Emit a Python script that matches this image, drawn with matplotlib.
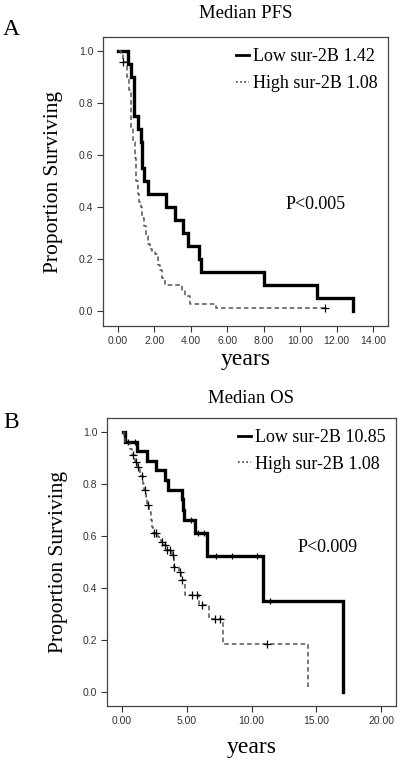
import numpy as np
import matplotlib.pyplot as plt
from matplotlib.lines import Line2D

serif = ['Liberation Serif', 'DejaVu Serif']
sans = ['Liberation Sans', 'DejaVu Sans']

# Panel A: progression-free survival
pfs_low_t = [0.0, 0.57, 0.75, 0.90, 1.08, 1.25, 1.35, 1.42, 1.66, 2.64, 3.13, 3.59, 3.87, 4.45, 4.56, 7.99, 10.9, 12.9]
pfs_low_s = [1.0, 0.95, 0.90, 0.75, 0.70, 0.65, 0.55, 0.50, 0.45, 0.40, 0.35, 0.30, 0.25, 0.20, 0.15, 0.10, 0.05, 0.0]
pfs_high_t = [0.05, 0.15, 0.27, 0.48, 0.60, 0.75, 0.85, 0.93, 1.02, 1.08, 1.15, 1.25, 1.35, 1.45, 1.57, 1.68, 1.76,
              1.90, 2.03, 2.20, 2.30, 2.40, 2.58, 3.50, 3.68, 3.96, 5.38, 11.37]
pfs_high_s = [1.0, 0.99, 0.96, 0.90, 0.85, 0.71, 0.65, 0.59, 0.50, 0.45, 0.42, 0.40, 0.36, 0.33, 0.29, 0.26, 0.24,
              0.23, 0.22, 0.18, 0.16, 0.13, 0.10, 0.08, 0.06, 0.027, 0.013, 0.013]
pfs_high_cens = [0.27, 11.37]

# Panel B: overall survival
os_low_t = [0.05, 0.22, 1.18, 1.90, 2.60, 3.32, 3.58, 4.61, 4.70, 4.81, 5.64, 6.54, 10.9, 17.1]
os_low_s = [1.0, 0.963, 0.926, 0.889, 0.852, 0.815, 0.778, 0.74, 0.70, 0.66, 0.61, 0.524, 0.35, 0.0]
os_low_cens = [0.5, 1.0, 5.3, 5.9, 6.3, 7.26, 8.47, 10.4, 11.45]
os_high_t = [0.05, 0.15, 0.25, 0.60, 0.80, 1.00, 1.20, 1.40, 1.65, 1.72, 1.85, 1.92, 2.05, 2.20, 2.32, 2.42,
             2.75, 3.00, 3.25, 3.40, 3.85, 3.98, 4.40, 4.55, 4.86, 5.97, 6.74, 7.82, 14.4]
os_high_s = [1.0, 0.98, 0.96, 0.935, 0.91, 0.886, 0.867, 0.83, 0.80, 0.775, 0.75, 0.72, 0.69, 0.66, 0.635, 0.61,
             0.595, 0.578, 0.563, 0.546, 0.527, 0.48, 0.46, 0.43, 0.373, 0.335, 0.28, 0.185, 0.01]
os_high_cens = [0.87, 1.06, 1.26, 1.52, 1.78, 1.97, 2.47, 2.62, 3.06, 3.32, 3.45, 3.7, 3.92, 4.02, 4.48, 4.61,
                5.38, 5.77, 6.15, 7.18, 7.57, 11.17]


def surv_at(times, surv, t):
    i = np.searchsorted(times, t, side='right') - 1
    return np.asarray(surv)[i]


def km_panel(ax, low_t, low_s, high_t, high_s, low_c, high_c, xmax, xstep,
             title, title_pad, xlabel_pad, labels, pval, pval_xy, letter, letter_xy):
    ax.step(low_t, low_s, where='post', color='black', lw=2.4, solid_joinstyle='miter')
    ax.step(high_t, high_s, where='post', color='#555555', lw=1.1, linestyle=(0, (3, 2)))
    if low_c:
        ax.plot(low_c, surv_at(low_t, low_s, low_c), '+', color='black', ms=5, mew=0.9)
    if high_c:
        ax.plot(high_c, surv_at(high_t, high_s, high_c), '+', color='black', ms=6, mew=0.9)

    ax.set_xlim(-xmax * 0.058, xmax * 1.058)
    ax.set_ylim(-0.056, 1.054)
    ticks = np.arange(0, xmax + 0.01, xstep)
    ax.set_xticks(ticks)
    ax.set_xticklabels([f'{v:.2f}' for v in ticks])
    ax.set_yticks([0, 0.2, 0.4, 0.6, 0.8, 1.0])
    ax.set_yticklabels(['0.0', '0.2', '0.4', '0.6', '0.8', '1.0'])
    ax.tick_params(direction='out', length=4, width=0.8, colors='#333333', labelsize=7.5, pad=3)
    for lab in ax.get_xticklabels() + ax.get_yticklabels():
        lab.set_family(sans)
    for sp in ax.spines.values():
        sp.set_color('#444444')
        sp.set_linewidth(0.9)

    ax.set_title(title, family=serif, fontsize=13.5, pad=title_pad)
    ax.set_ylabel('Proportion Surviving', family=serif, fontsize=15.5, labelpad=11)
    ax.set_xlabel('years', family=serif, fontsize=17, labelpad=xlabel_pad)

    handles = [Line2D([], [], color='black', lw=2),
               Line2D([], [], color='#444444', lw=1.2, linestyle=(0, (1, 1.5)))]
    ax.legend(handles, labels, loc='upper right', frameon=False,
              prop={'family': serif, 'size': 13}, handlelength=0.7,
              handletextpad=0.2, labelspacing=0.55, borderaxespad=0.3,
              borderpad=0.3)
    ax.text(pval_xy[0], pval_xy[1], pval, transform=ax.transAxes, family=serif, fontsize=13,
            ha='center', va='center')
    ax.text(letter_xy[0], letter_xy[1], letter, transform=ax.transAxes, family=serif, fontsize=17,
            ha='center', va='center')


fig = plt.figure(figsize=(4, 7.6), dpi=100)
ax_a = fig.add_axes([0.2575, 0.571, 0.7125, 0.38])
ax_b = fig.add_axes([0.2675, 0.071, 0.7225, 0.379])

km_panel(ax_a, pfs_low_t, pfs_low_s, pfs_high_t, pfs_high_s, [], pfs_high_cens, 14, 2,
         'Median PFS', 14, 2, ['Low sur-2B 1.42', 'High sur-2B 1.08'], 'P<0.005', (0.747, 0.422),
         'A', (-0.323, 1.028))
km_panel(ax_b, os_low_t, os_low_s, os_high_t, os_high_s, os_low_cens, os_high_cens, 20, 5,
         'Median OS', 11, 8, ['Low sur-2B 10.85', 'High sur-2B 1.08'], 'P<0.009', (0.763, 0.549),
         'B', (-0.332, 0.983))

fig.savefig('out.png', dpi=100)
